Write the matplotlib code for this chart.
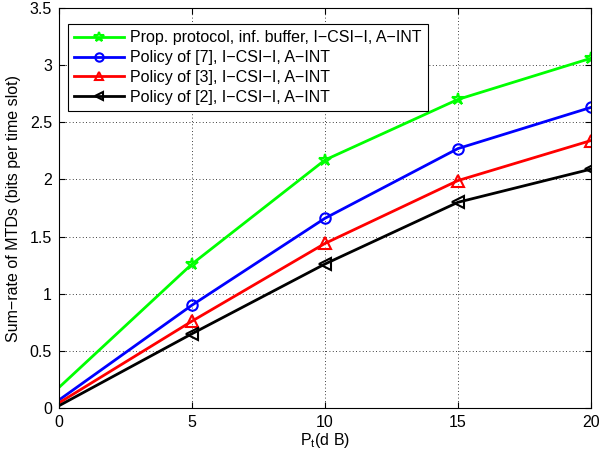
import matplotlib
matplotlib.use("Agg")
import matplotlib.pyplot as plt

x = [0, 5, 10, 15, 20]
prop = [0.18, 1.26, 2.17, 2.70, 3.06]
pol7 = [0.07, 0.90, 1.66, 2.27, 2.63]
pol3 = [0.045, 0.76, 1.44, 1.99, 2.34]
pol2 = [0.02, 0.65, 1.26, 1.80, 2.09]
labels = ["Prop. protocol, inf. buffer, I\u2212CSI\u2212I, A\u2212INT",
          "Policy of [7], I\u2212CSI\u2212I, A\u2212INT",
          "Policy of [3], I\u2212CSI\u2212I, A\u2212INT",
          "Policy of [2], I\u2212CSI\u2212I, A\u2212INT"]

plt.rcParams['font.family'] = ['Liberation Sans', 'DejaVu Sans']
plt.rcParams['font.size'] = 11.5
plt.rcParams['mathtext.fontset'] = 'custom'
plt.rcParams['mathtext.rm'] = 'Liberation Sans'

fig = plt.figure(figsize=(5.99, 4.51), dpi=100)
ax = fig.add_axes([0.0985, 0.0953, 0.888, 0.887])

me = [1, 2, 3, 4]
ax.plot(x, prop, color='#00ff00', lw=2, marker='*', ms=9, mfc='none', mew=1.5, markevery=me, label=labels[0])
ax.plot(x, pol7, color='#0000ff', lw=2, marker='o', ms=7.5, mfc='none', mew=1.5, markevery=me, label=labels[1])
ax.plot(x, pol3, color='#ff0000', lw=2, marker='^', ms=8, mfc='none', mew=1.5, markevery=me, label=labels[2])
ax.plot(x, pol2, color='black', lw=2, marker='<', ms=8, mfc='none', mew=1.5, markevery=me, label=labels[3])

ax.set_xlim(0, 20)
ax.set_ylim(0, 3.5)
ax.set_xticks([0, 5, 10, 15, 20])
ax.set_yticks([0, 0.5, 1, 1.5, 2, 2.5, 3, 3.5])
ax.set_yticklabels(['0', '0.5', '1', '1.5', '2', '2.5', '3', '3.5'])
ax.grid(True, linestyle=(0, (1, 3)), color='black', lw=0.6)
ax.tick_params(direction='in', top=True, right=True, length=4, pad=5)
for s in ax.spines.values():
    s.set_linewidth(0.8)

ax.set_xlabel(r"P$_\mathrm{t}$(d B)", labelpad=1)
ax.set_ylabel("Sum\u2212rate of MTDs (bits per time slot)", labelpad=6)

leg = ax.legend(loc='upper left', bbox_to_anchor=(0.017, 0.96), fancybox=False,
                edgecolor='black', framealpha=1, borderpad=0.4, labelspacing=0.3,
                handlelength=3.1, handletextpad=0.4, borderaxespad=0, markerscale=0.8)
leg.get_frame().set_linewidth(0.8)

fig.savefig("out.png", dpi=100)
